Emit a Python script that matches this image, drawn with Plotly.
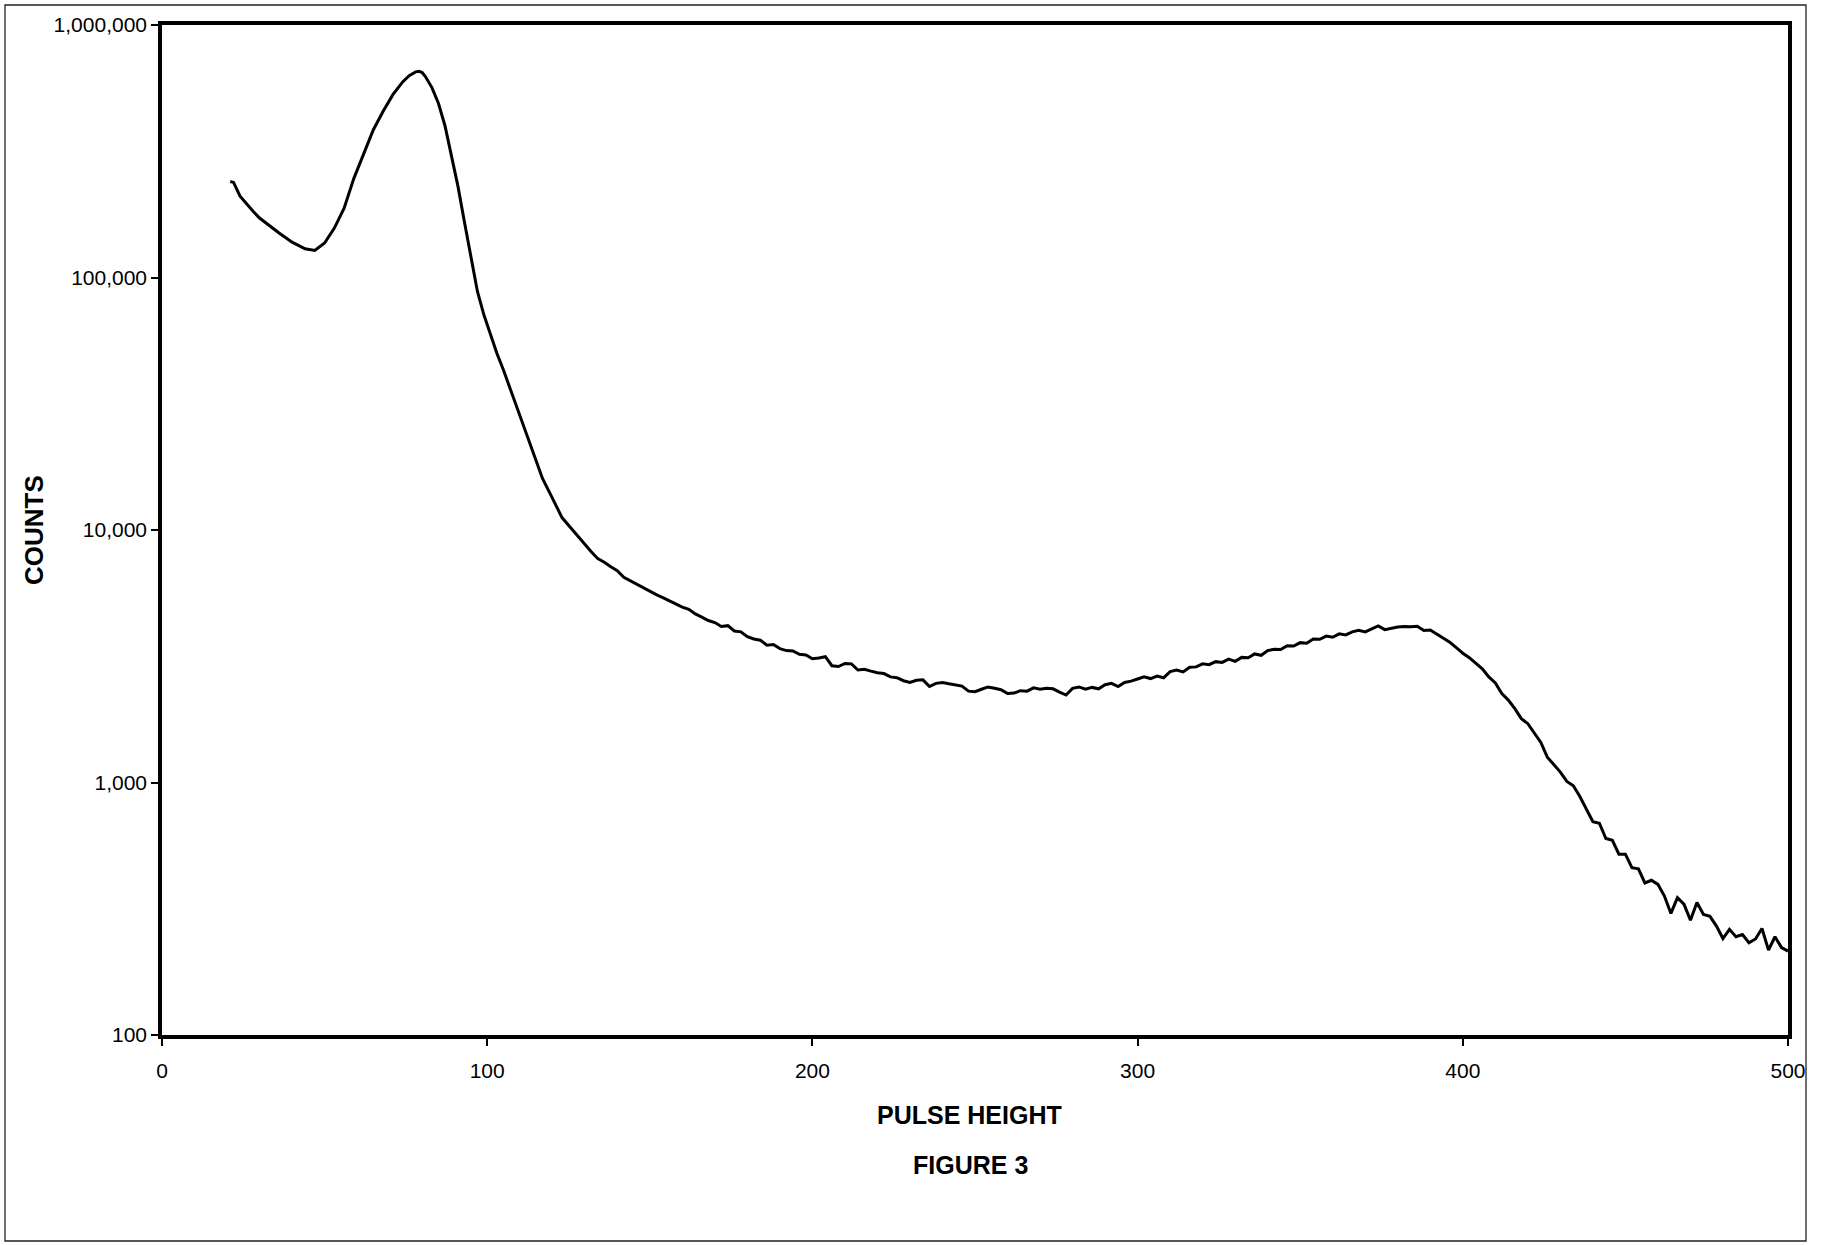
import plotly.graph_objects as go

# ---- data (pulse-height spectrum) ----
pulse_smooth = [21, 22, 24, 26, 28, 30, 33, 36, 40, 44, 47, 50, 53, 56, 59, 62, 65, 68,
                71, 74, 76, 78, 79, 80, 81, 83, 85, 87, 89, 91, 93, 95, 97, 99, 101, 103, 105,
                108, 111, 114, 117, 120, 123, 126, 128]
counts_smooth = [240000, 238000, 210000, 195000, 183000, 172000, 160000, 150000, 138000,
                 130000, 128000, 137000, 157000, 188000, 247000, 310000, 385000, 455000,
                 530000, 595000, 630000, 652000, 656000, 648000, 625000, 565000, 490000,
                 400000, 300000, 230000, 166000, 120000, 88000, 71000, 59000, 50000, 43000,
                 33700, 26500, 20500, 16000, 13400, 11200, 10100, 9400]

pulse_noisy = list(range(130, 501, 2))
counts_noisy = [
    8800, 8200, 7700, 7450, 7150, 6900, 6500, 6300, 6100, 5900,          # 130-148
    5700, 5550, 5400, 5250, 5100, 4950, 4850, 4650, 4520, 4380,          # 150-168
    4300, 4150, 4180, 3980, 3950, 3780, 3700, 3660, 3500, 3520,          # 170-188
    3390, 3330, 3320, 3220, 3200, 3090, 3110, 3150, 2900, 2880,          # 190-208
    2960, 2950, 2790, 2810, 2760, 2720, 2700, 2620, 2600, 2530,          # 210-228
    2490, 2540, 2550, 2400, 2470, 2490, 2460, 2430, 2410, 2300,          # 230-248
    2290, 2340, 2390, 2360, 2330, 2250, 2260, 2310, 2300, 2370,          # 250-268
    2340, 2360, 2350, 2280, 2220, 2360, 2390, 2340, 2380, 2350,          # 270-288
    2440, 2470, 2400, 2490, 2520, 2570, 2620, 2580, 2640, 2600,          # 290-308
    2750, 2790, 2740, 2860, 2870, 2950, 2930, 3010, 2990, 3080,          # 310-328
    3020, 3130, 3120, 3230, 3190, 3330, 3370, 3360, 3480, 3470,          # 330-348
    3580, 3560, 3700, 3690, 3800, 3760, 3880, 3840, 3950, 4010,          # 350-368
    3950, 4060, 4170, 4030, 4090, 4130, 4150, 4140, 4160, 4000,          # 370-388
    4020, 3880, 3740, 3590, 3420, 3250, 3120, 2960, 2820, 2620,          # 390-408
    2480, 2250, 2120, 1960, 1790, 1710, 1560, 1440, 1260, 1180,          # 410-428
    1100, 1010, 970, 880, 790, 700, 690, 600, 590, 520,                  # 430-448
    520, 460, 455, 400, 410, 395, 355, 303, 350, 330,                    # 450-468
    285, 335, 300, 295, 270, 241, 262, 245, 250, 232,                    # 470-488
    240, 264, 217, 245, 222, 215,                                        # 490-500
]

pulse = pulse_smooth + pulse_noisy
counts = counts_smooth + counts_noisy

y_tick_vals = [100, 1000, 10000, 100000, 1000000]
y_tick_text = ["100", "1,000", "10,000", "100,000", "1,000,000"]
x_tick_vals = [0, 100, 200, 300, 400, 500]
x_tick_text = ["0", "100", "200", "300", "400", "500"]

x_title = "PULSE HEIGHT"
y_title = "COUNTS"
caption = "FIGURE 3"

# ---- figure ----
W, H = 1827, 1245
L, R, T, B = 162, 39, 25, 210
pw, ph = W - L - R, H - T - B

FONT = "Liberation Sans, Arial, sans-serif"

fig = go.Figure()
fig.add_trace(go.Scatter(
    x=pulse, y=counts, mode="lines",
    line=dict(color="black", width=3),
    showlegend=False, hoverinfo="skip",
))

fig.update_layout(
    width=W, height=H,
    margin=dict(l=L, r=R, t=T, b=B, pad=0),
    paper_bgcolor="white", plot_bgcolor="white",
    font=dict(family=FONT, color="black", size=21),
    showlegend=False,
)

fig.update_xaxes(
    range=[0, 500], tickvals=x_tick_vals, ticktext=x_tick_text,
    showgrid=False, zeroline=False,
    showline=True, linecolor="black", linewidth=3.5, mirror=True,
    ticks="outside", ticklen=7, tickwidth=1.5, tickcolor="black",
    ticklabelstandoff=7,
    tickfont=dict(family=FONT, size=21, color="black"),
)
fig.update_yaxes(
    type="log", range=[2, 6], tickvals=y_tick_vals, ticktext=y_tick_text,
    showgrid=False, zeroline=False,
    showline=True, linecolor="black", linewidth=3.5, mirror=True,
    ticks="outside", ticklen=7, tickwidth=1.5, tickcolor="black",
    ticklabelstandoff=0,
    tickfont=dict(family=FONT, size=21, color="black"),
)

def px_to_paper_x(px):
    return (px - L) / pw

def px_to_paper_y(py):
    return (H - B - py) / ph

bold = dict(family="Liberation Sans, Arial, sans-serif", size=25, color="black")
fig.add_annotation(text="<b>%s</b>" % x_title, xref="paper", yref="paper",
                   x=px_to_paper_x(969), y=px_to_paper_y(1115),
                   xanchor="center", yanchor="middle", showarrow=False, font=bold)
fig.add_annotation(text="<b>%s</b>" % caption, xref="paper", yref="paper",
                   x=px_to_paper_x(970), y=px_to_paper_y(1165),
                   xanchor="center", yanchor="middle", showarrow=False, font=bold)
fig.add_annotation(text="<b>%s</b>" % y_title, xref="paper", yref="paper",
                   x=px_to_paper_x(34), y=px_to_paper_y(530), textangle=-90,
                   xanchor="center", yanchor="middle", showarrow=False,
                   font=dict(family="Liberation Sans, Arial, sans-serif", size=26, color="black"))

# outer scanned page frame
fig.add_shape(type="rect", xref="paper", yref="paper",
              x0=px_to_paper_x(5), x1=px_to_paper_x(1806),
              y0=px_to_paper_y(1241), y1=px_to_paper_y(5),
              line=dict(color="#222222", width=1.3), layer="below")

fig.write_html("out.html")
